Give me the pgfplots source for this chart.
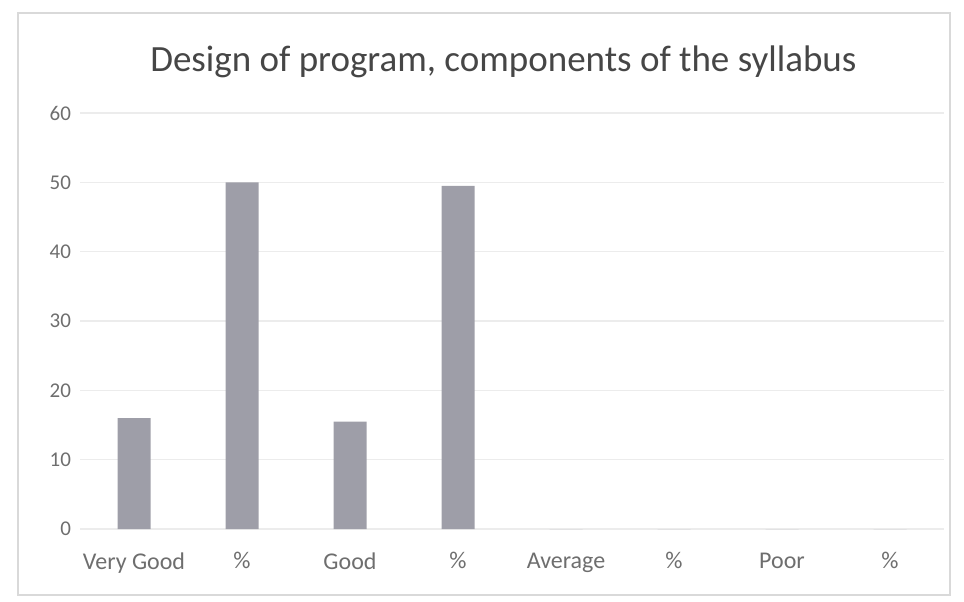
\documentclass[border=0pt]{standalone}
\usepackage{pgfplots}
\pgfplotsset{compat=1.18}
\usepackage{fontspec}
\setmainfont{Carlito}
\definecolor{barcol}{RGB}{158,158,168}
\definecolor{gridcol}{RGB}{236,236,236}
\definecolor{tickcol}{RGB}{110,110,110}
\definecolor{titlecol}{RGB}{70,70,70}
\begin{document}
\begin{tikzpicture}
\begin{axis}[
    scale only axis,
    width=432pt,
    height=208pt,
    ybar=0pt,
    bar width=16.5pt,
    xmin=-0.5, xmax=7.5,
    ymin=0, ymax=60,
    ytick={0,10,...,60},
    xtick={0,...,7},
    xticklabels={Very Good,\%,Good,\%,Average,\%,Poor,\%},
    axis line style={draw=none},
    tick style={draw=none},
    ymajorgrids,
    grid style={gridcol, line width=0.6pt},
    yticklabel style={font=\fontsize{10.5}{12}\selectfont, text=tickcol, xshift=-1pt},
    xticklabel style={font=\fontsize{12}{14}\selectfont, text=tickcol, yshift=-4pt},
    /pgf/number format/assume math mode=true,
    title={Design of program, components of the syllabus},
    title style={font=\fontsize{18.5}{22}\selectfont, text=titlecol, at={(0.49,1)}, anchor=center, yshift=19.5pt},
]
\addplot[fill=barcol, draw=none] coordinates {
    (0,16) (1,50) (2,15.5) (3,49.5) (4,0) (5,0) (6,0) (7,0)};
\coordinate (sw) at (rel axis cs:0,0);
\coordinate (ne) at (rel axis cs:1,1);
\end{axis}
\draw[gray!30, line width=0.6pt] ([shift={(-31pt,-33pt)}]sw) rectangle ([shift={(3pt,50pt)}]ne);
\path ([shift={(-40pt,-36pt)}]sw) rectangle ([shift={(0pt,0pt)}]sw -| ne);
\path ([shift={(10pt,264.5pt)}]sw -| ne) rectangle ([shift={(-40pt,264.5pt)}]sw);
\end{tikzpicture}
\end{document}
